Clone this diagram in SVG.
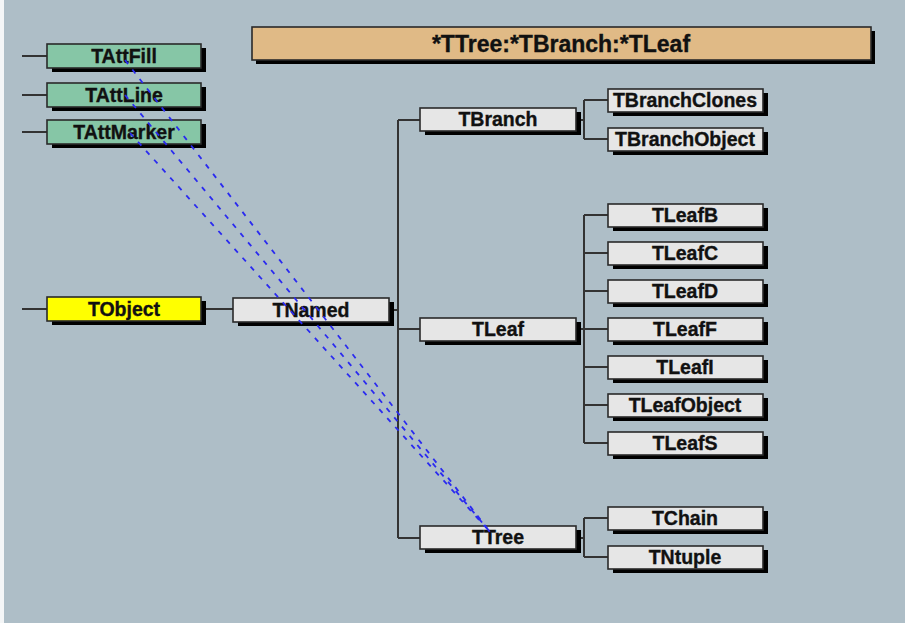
<svg xmlns="http://www.w3.org/2000/svg" width="905" height="623" viewBox="0 0 905 623">
<defs>
<style>
.bg{fill:#aebec7}
.sh{fill:#000}
.box{fill:#e6e6e6;stroke:#2a2a2a;stroke-width:1.6}
.att{fill:#86c6a6}
.obj{fill:#ffff00}
.ttl{fill:#e0ba86}
.lbl{font-family:"Liberation Sans",Arial,sans-serif;font-weight:bold;font-size:19.5px;fill:#111;stroke:#111;stroke-width:0.35;text-anchor:middle}
.title{font-size:23px}
.ln{stroke:#333;stroke-width:2;fill:none}
.dl{stroke:#2a2af0;stroke-width:1.8;stroke-dasharray:5 7;fill:none}
</style>
</defs>
<rect class="bg" x="0" y="0" width="905" height="623"/>
<rect x="0" y="0" width="4" height="623" fill="#f4f6f7"/>

<g id="connectors">
<path class="ln" d="M22 56H47 M22 95H47 M22 132H47 M22 309H47 M201 309H233 M389 310H398 M398 120V538 M398 120H420 M398 329H420 M398 538H420 M576 120H584 M584 100V139 M584 100H608 M584 139H608 M576 329H584 M584 215V443 M584 215H608 M584 253H608 M584 291H608 M584 329H608 M584 367H608 M584 405H608 M584 443H608 M576 538H584 M584 518V557 M584 518H608 M584 557H608"/>
</g>

<g id="title">
<rect class="sh" x="256" y="31" width="619" height="33"/>
<rect class="box ttl" x="252" y="27" width="619" height="33"/>
<text class="lbl title" x="561" y="52">*TTree:*TBranch:*TLeaf</text>
</g>

<g id="TAttFill">
<rect class="sh" x="52" y="48" width="154" height="24"/>
<rect class="box att" x="47" y="44" width="154" height="24"/>
<text class="lbl" x="124" y="63">TAttFill</text>
</g>
<g id="TAttLine">
<rect class="sh" x="52" y="87" width="154" height="24"/>
<rect class="box att" x="47" y="83" width="154" height="24"/>
<text class="lbl" x="124" y="102">TAttLine</text>
</g>
<g id="TAttMarker">
<rect class="sh" x="52" y="124" width="154" height="24"/>
<rect class="box att" x="47" y="120" width="154" height="24"/>
<text class="lbl" x="124" y="139">TAttMarker</text>
</g>
<g id="TObject">
<rect class="sh" x="52" y="301" width="154" height="24"/>
<rect class="box obj" x="47" y="297" width="154" height="24"/>
<text class="lbl" x="124" y="316">TObject</text>
</g>
<g id="TNamed">
<rect class="sh" x="238" y="302" width="156" height="24"/>
<rect class="box" x="233" y="298" width="156" height="24"/>
<text class="lbl" x="311" y="317">TNamed</text>
</g>
<g id="TBranch">
<rect class="sh" x="425" y="112" width="156" height="23"/>
<rect class="box" x="420" y="108" width="156" height="23"/>
<text class="lbl" x="498" y="126">TBranch</text>
</g>
<g id="TLeaf">
<rect class="sh" x="425" y="322" width="156" height="23"/>
<rect class="box" x="420" y="318" width="156" height="23"/>
<text class="lbl" x="498" y="336">TLeaf</text>
</g>
<g id="TTree">
<rect class="sh" x="425" y="530" width="156" height="23"/>
<rect class="box" x="420" y="526" width="156" height="23"/>
<text class="lbl" x="498" y="544">TTree</text>
</g>
<g id="TBranchClones">
<rect class="sh" x="613" y="93" width="155" height="23"/>
<rect class="box" x="608" y="89" width="155" height="23"/>
<text class="lbl" x="685" y="107">TBranchClones</text>
</g>
<g id="TBranchObject">
<rect class="sh" x="613" y="132" width="155" height="23"/>
<rect class="box" x="608" y="128" width="155" height="23"/>
<text class="lbl" x="685" y="146">TBranchObject</text>
</g>
<g id="TLeafB">
<rect class="sh" x="613" y="208" width="155" height="23"/>
<rect class="box" x="608" y="204" width="155" height="23"/>
<text class="lbl" x="685" y="222">TLeafB</text>
</g>
<g id="TLeafC">
<rect class="sh" x="613" y="246" width="155" height="23"/>
<rect class="box" x="608" y="242" width="155" height="23"/>
<text class="lbl" x="685" y="260">TLeafC</text>
</g>
<g id="TLeafD">
<rect class="sh" x="613" y="284" width="155" height="23"/>
<rect class="box" x="608" y="280" width="155" height="23"/>
<text class="lbl" x="685" y="298">TLeafD</text>
</g>
<g id="TLeafF">
<rect class="sh" x="613" y="322" width="155" height="23"/>
<rect class="box" x="608" y="318" width="155" height="23"/>
<text class="lbl" x="685" y="336">TLeafF</text>
</g>
<g id="TLeafI">
<rect class="sh" x="613" y="360" width="155" height="23"/>
<rect class="box" x="608" y="356" width="155" height="23"/>
<text class="lbl" x="685" y="374">TLeafI</text>
</g>
<g id="TLeafObject">
<rect class="sh" x="613" y="398" width="155" height="23"/>
<rect class="box" x="608" y="394" width="155" height="23"/>
<text class="lbl" x="685" y="412">TLeafObject</text>
</g>
<g id="TLeafS">
<rect class="sh" x="613" y="436" width="155" height="23"/>
<rect class="box" x="608" y="432" width="155" height="23"/>
<text class="lbl" x="685" y="450">TLeafS</text>
</g>
<g id="TChain">
<rect class="sh" x="613" y="511" width="155" height="23"/>
<rect class="box" x="608" y="507" width="155" height="23"/>
<text class="lbl" x="685" y="525">TChain</text>
</g>
<g id="TNtuple">
<rect class="sh" x="613" y="550" width="155" height="23"/>
<rect class="box" x="608" y="546" width="155" height="23"/>
<text class="lbl" x="685" y="564">TNtuple</text>
</g>

<g id="dashed-links">
<path class="dl" d="M125 60L490 532 M125 95L490 532 M130 133L490 532"/>
</g>
</svg>
